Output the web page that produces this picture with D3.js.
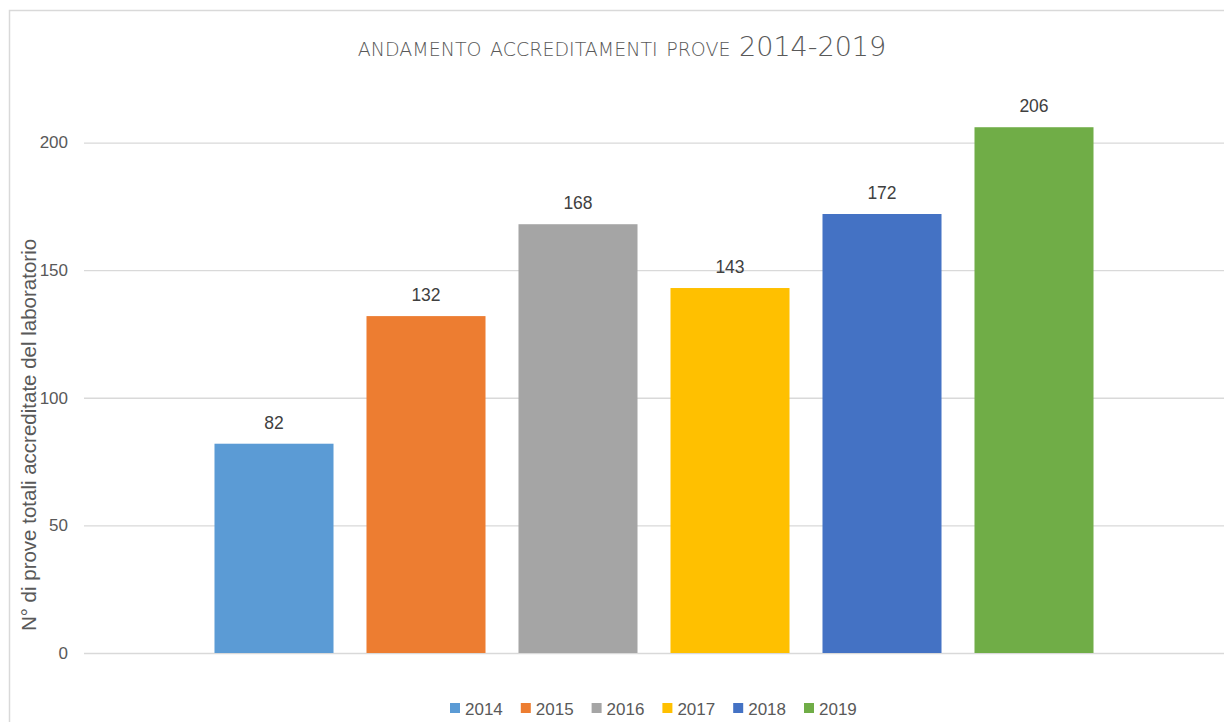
<!DOCTYPE html>
<html><head><meta charset="utf-8">
<script src="https://cdn.jsdelivr.net/npm/d3@7"></script>
<style>body{margin:0;background:#fff;}svg{display:block;}</style>
</head><body>
<svg id="chart" width="1224" height="722"></svg>
<script>
const years = ["2014","2015","2016","2017","2018","2019"];
const values = [82,132,168,143,172,206];
const colors = ["#5b9bd5","#ed7d31","#a5a5a5","#ffc000","#4472c4","#70ad47"];
const yTicks = [0,50,100,150,200];
const title = "andamento accreditamenti prove 2014-2019";
const yTitle = "N° di prove totali accreditate  del laboratorio";

const svg = d3.select("#chart");
const font = "'Liberation Sans', Arial, sans-serif";
const plot = {left: 84, right: 1224, top: 91.5, bottom: 653};

// outer border
svg.append("path").attr("d", "M9.5,722 V10.5 H1224").attr("fill","none").attr("stroke","#d9d9d9").attr("stroke-width",1.5);

const y = d3.scaleLinear().domain([0,220]).range([plot.bottom, plot.top]);
const groupW = (plot.right - plot.left) / 1.25;
const gx0 = plot.left + ((plot.right - plot.left) - groupW) / 2;
const x = d3.scaleBand().domain(years).range([gx0, gx0 + groupW]).paddingInner(0.217).paddingOuter(0.1085);

// gridlines + tick labels
const yAxis = d3.axisLeft(y).tickValues(yTicks).tickSize(-(plot.right - plot.left)).tickPadding(16);
const ga = svg.append("g").attr("transform", `translate(${plot.left},0)`).call(yAxis);
ga.select(".domain").remove();
ga.selectAll(".tick line").attr("stroke","#d9d9d9").attr("stroke-width",1.3);
ga.selectAll(".tick text").attr("fill","#595959").style("font-family",font).style("font-size","17px");

// bars
svg.selectAll("rect.bar").data(values).enter().append("rect")
  .attr("class","bar")
  .attr("x",(d,i)=>x(years[i]))
  .attr("y",d=>y(d))
  .attr("width",x.bandwidth())
  .attr("height",d=>y(0)-y(d))
  .attr("fill",(d,i)=>colors[i]);

// value labels
svg.selectAll("text.val").data(values).enter().append("text")
  .attr("class","val")
  .attr("x",(d,i)=>x(years[i]) + x.bandwidth()/2)
  .attr("y",d=>y(d) - 15)
  .attr("text-anchor","middle")
  .attr("fill","#404040")
  .style("font-family",font).style("font-size","17.5px")
  .text(d=>d);

// title
svg.append("text").attr("x",622).attr("y",56).attr("text-anchor","middle")
  .attr("fill","#595959")
  .style("font-family","'DejaVu Sans', sans-serif").style("font-size","27px")
  .style("font-variant","small-caps").style("font-stretch","condensed")
  .style("font-weight","300")
  .text(title);

// y axis title
svg.append("text").attr("transform","translate(36,435) rotate(-90)")
  .attr("text-anchor","middle").attr("fill","#595959")
  .style("font-family",font).style("font-size","20.5px")
  .text(yTitle);

// legend
const lg = svg.append("g");
years.forEach((yr,i)=>{
  const lx = 450 + i*70.8;
  lg.append("rect").attr("x",lx).attr("y",703).attr("width",10).attr("height",10).attr("fill",colors[i]);
  lg.append("text").attr("x",lx+15).attr("y",714.5).attr("fill","#595959")
    .style("font-family",font).style("font-size","17px").text(yr);
});
</script>
</body></html>
